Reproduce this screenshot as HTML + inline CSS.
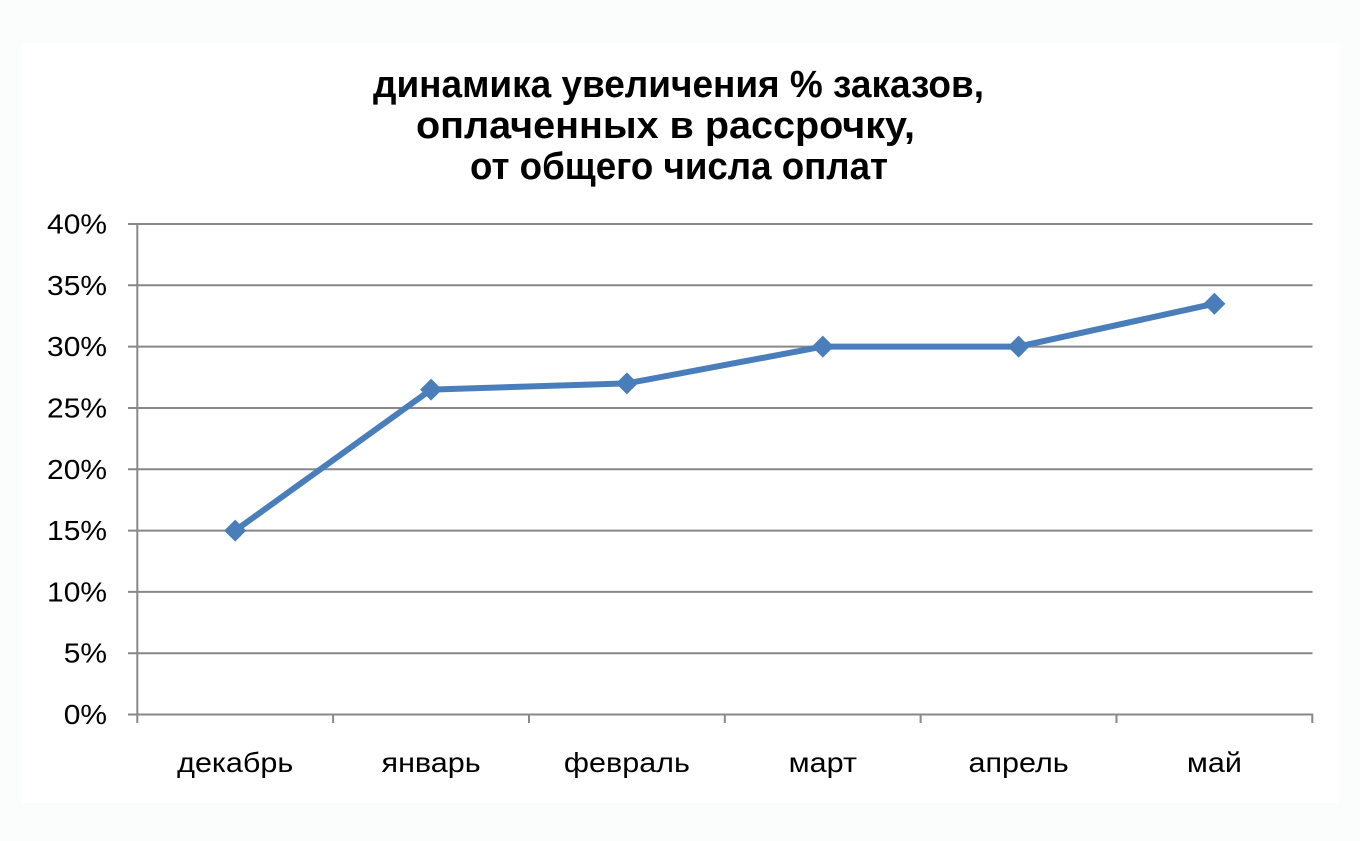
<!DOCTYPE html>
<html>
<head>
<meta charset="utf-8">
<style>
  html, body { margin: 0; padding: 0; background: #fbfcfc; }
  body { width: 1360px; height: 841px; overflow: hidden; }
  svg { display: block; }
  text { font-family: "Liberation Sans", Arial, "Noto Sans CJK SC", sans-serif; fill: #000; }
</style>
</head>
<body>
<svg width="1360" height="841" viewBox="0 0 1360 841" xmlns="http://www.w3.org/2000/svg">
  <rect x="0" y="0" width="1360" height="841" fill="#fbfcfc"/>
  <rect x="22" y="43" width="1317" height="760" fill="#ffffff"/>

  <!-- Title -->
  <g font-weight="bold" font-size="38">
    <text x="373" y="97" textLength="611" lengthAdjust="spacingAndGlyphs">динамика увеличения % заказов,</text>
    <text x="416" y="138" textLength="499" lengthAdjust="spacingAndGlyphs">оплаченных в рассрочку,</text>
    <text x="470" y="179" textLength="418" lengthAdjust="spacingAndGlyphs">от общего числа оплат</text>
  </g>

  <!-- Gridlines -->
  <g stroke="#888888" stroke-width="2" fill="none">
    <line x1="128" y1="224" x2="1312.5" y2="224"/>
    <line x1="128" y1="285.3" x2="1312.5" y2="285.3"/>
    <line x1="128" y1="346.6" x2="1312.5" y2="346.6"/>
    <line x1="128" y1="408" x2="1312.5" y2="408"/>
    <line x1="128" y1="469.3" x2="1312.5" y2="469.3"/>
    <line x1="128" y1="530.6" x2="1312.5" y2="530.6"/>
    <line x1="128" y1="591.9" x2="1312.5" y2="591.9"/>
    <line x1="128" y1="653.2" x2="1312.5" y2="653.2"/>
    <line x1="128" y1="714.5" x2="1312.5" y2="714.5"/>
    <!-- vertical axis -->
    <line x1="137.3" y1="223" x2="137.3" y2="723"/>
    <!-- category ticks -->
    <line x1="333.1" y1="714.5" x2="333.1" y2="723"/>
    <line x1="529" y1="714.5" x2="529" y2="723"/>
    <line x1="724.8" y1="714.5" x2="724.8" y2="723"/>
    <line x1="920.6" y1="714.5" x2="920.6" y2="723"/>
    <line x1="1116.5" y1="714.5" x2="1116.5" y2="723"/>
    <line x1="1312.3" y1="713.5" x2="1312.3" y2="723"/>
  </g>

  <!-- Y labels -->
  <g font-size="27.5" text-anchor="end">
    <text transform="translate(107,233.5) scale(1.09,1)">40%</text>
    <text transform="translate(107,294.8) scale(1.09,1)">35%</text>
    <text transform="translate(107,356.1) scale(1.09,1)">30%</text>
    <text transform="translate(107,417.5) scale(1.09,1)">25%</text>
    <text transform="translate(107,478.8) scale(1.09,1)">20%</text>
    <text transform="translate(107,540.1) scale(1.09,1)">15%</text>
    <text transform="translate(107,601.4) scale(1.09,1)">10%</text>
    <text transform="translate(107,662.7) scale(1.09,1)">5%</text>
    <text transform="translate(107,724) scale(1.09,1)">0%</text>
  </g>

  <!-- X labels -->
  <g font-size="27.5" text-anchor="middle">
    <text transform="translate(235.2,772) scale(1.11,1)">декабрь</text>
    <text transform="translate(431.1,772) scale(1.11,1)">январь</text>
    <text transform="translate(626.9,772) scale(1.11,1)">февраль</text>
    <text transform="translate(822.8,772) scale(1.11,1)">март</text>
    <text transform="translate(1018.6,772) scale(1.11,1)">апрель</text>
    <text transform="translate(1214.4,772) scale(1.11,1)">май</text>
  </g>

  <!-- Series -->
  <polyline fill="none" stroke="#4a7ebb" stroke-width="6" stroke-linejoin="round"
    points="235.2,530.6 431.1,389.6 626.9,383.4 822.8,346.6 1018.6,346.6 1214.4,303.7"/>
  <g fill="#4a7ebb">
    <polygon points="235.2,519.6 246.2,530.6 235.2,541.6 224.2,530.6"/>
    <polygon points="431.1,378.6 442.1,389.6 431.1,400.6 420.1,389.6"/>
    <polygon points="626.9,372.4 637.9,383.4 626.9,394.4 615.9,383.4"/>
    <polygon points="822.8,335.6 833.8,346.6 822.8,357.6 811.8,346.6"/>
    <polygon points="1018.6,335.6 1029.6,346.6 1018.6,357.6 1007.6,346.6"/>
    <polygon points="1214.4,292.7 1225.4,303.7 1214.4,314.7 1203.4,303.7"/>
  </g>
</svg>
</body>
</html>
